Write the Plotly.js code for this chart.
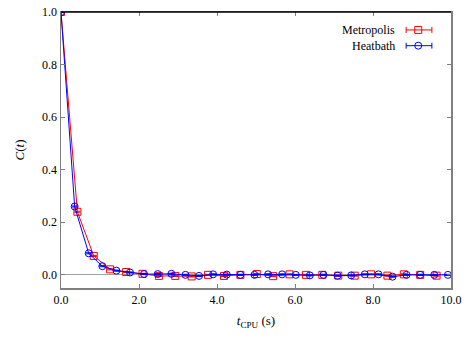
<!DOCTYPE html>
<html>
<head>
<meta charset="utf-8">
<script src="https://cdn.plot.ly/plotly-3.0.1.min.js"></script>
<style>
  html, body { margin: 0; padding: 0; background: #fff; }
  #chart { width: 473px; height: 340px; }
</style>
</head>
<body>
<div id="chart"></div>
<script>
// Metropolis series
const metroT = [0.00, 0.42, 0.84, 1.26, 1.67, 2.09, 2.51, 2.93, 3.35, 3.77, 4.18, 4.60,
                5.02, 5.44, 5.86, 6.28, 6.70, 7.11, 7.53, 7.95, 8.37, 8.79, 9.21, 9.63];
const metroC = [1.000, 0.240, 0.072, 0.021, 0.011, 0.004, -0.004, -0.004, -0.006, 0.000, -0.004, 0.000,
                0.003, -0.005, 0.002, 0.000, 0.000, -0.003, -0.003, 0.002, -0.003, 0.002, 0.000, -0.003];
const metroErr = [0.002, 0.002, 0.002, 0.002, 0.002, 0.002, 0.002, 0.002, 0.002, 0.002, 0.002, 0.002,
                  0.002, 0.002, 0.002, 0.002, 0.002, 0.002, 0.002, 0.002, 0.002, 0.002, 0.002, 0.002];

// Heatbath series
const heatT = [0.00, 0.35, 0.71, 1.06, 1.42, 1.77, 2.13, 2.48, 2.83, 3.19, 3.54, 3.90, 4.25, 4.60,
               4.96, 5.31, 5.67, 6.02, 6.38, 6.73, 7.09, 7.44, 7.79, 8.14, 8.50, 8.86, 9.21, 9.57, 9.92];
const heatC = [1.000, 0.260, 0.082, 0.033, 0.016, 0.009, 0.003, 0.003, 0.004, 0.000, -0.004, 0.002, 0.001, 0.000,
               0.000, 0.002, 0.002, 0.000, -0.002, 0.000, -0.003, -0.002, 0.002, 0.002, -0.007, 0.000, 0.000, 0.000, 0.000];
const heatErr = [0.002, 0.002, 0.002, 0.002, 0.002, 0.002, 0.002, 0.002, 0.002, 0.002, 0.002, 0.002, 0.002, 0.002,
                 0.002, 0.002, 0.002, 0.002, 0.002, 0.002, 0.002, 0.002, 0.002, 0.002, 0.002, 0.002, 0.002, 0.002, 0.002];

const seriesNames = ['Metropolis', 'Heatbath'];
const xTicks = [0, 2, 4, 6, 8, 10];
const xTickText = ['0.0', '2.0', '4.0', '6.0', '8.0', '10.0'];
const yTicks = [0, 0.2, 0.4, 0.6, 0.8, 1.0];
const yTickText = ['0.0', '0.2', '0.4', '0.6', '0.8', '1.0'];

const RED = '#ff0000';
const BLUE = '#0000ff';
const FONT = '"Liberation Serif", "Liberation Sans", serif';

const traces = [
  {
    x: metroT, y: metroC, name: seriesNames[0], type: 'scatter', mode: 'lines+markers',
    line: { color: RED, width: 1 },
    marker: { symbol: 'square-open', size: 7, color: RED, line: { width: 1, color: RED } },
    error_y: { type: 'data', array: metroErr, visible: true, color: RED, thickness: 1, width: 3 },
    showlegend: false
  },
  {
    x: heatT, y: heatC, name: seriesNames[1], type: 'scatter', mode: 'lines+markers',
    line: { color: BLUE, width: 1 },
    marker: { symbol: 'circle-open', size: 7, color: BLUE, line: { width: 1, color: BLUE } },
    error_y: { type: 'data', array: heatErr, visible: true, color: BLUE, thickness: 1, width: 3 },
    showlegend: false
  }
];

// custom legend (gnuplot style: text on left, symbol on right)
const legY = [0.935, 0.878];
const legColors = [RED, BLUE];
const lx0 = 0.885, lx1 = 0.951, lxm = 0.916;
const shapes = [
  { type: 'line', xref: 'paper', yref: 'paper', x0: 0, x1: 1, y0: 1, y1: 1,
    line: { color: '#000000', width: 1.5 } }
];
const annotations = [];
for (let i = 0; i < 2; i++) {
  const c = legColors[i], yy = legY[i];
  shapes.push({ type: 'line', xref: 'paper', yref: 'paper', x0: lx0, x1: lx1, y0: yy, y1: yy,
                line: { color: c, width: 1 } });
  shapes.push({ type: 'line', xref: 'paper', yref: 'paper', ysizemode: 'pixel', yanchor: yy,
                x0: lx0, x1: lx0, y0: -3, y1: 3, line: { color: c, width: 1 } });
  shapes.push({ type: 'line', xref: 'paper', yref: 'paper', ysizemode: 'pixel', yanchor: yy,
                x0: lx1, x1: lx1, y0: -3, y1: 3, line: { color: c, width: 1 } });
  shapes.push({ type: i === 0 ? 'rect' : 'circle', xref: 'paper', yref: 'paper',
                xsizemode: 'pixel', ysizemode: 'pixel', xanchor: lxm, yanchor: yy,
                x0: -3.5, x1: 3.5, y0: -3.5, y1: 3.5, fillcolor: 'rgba(0,0,0,0)',
                line: { color: c, width: 1 } });
  annotations.push({ xref: 'paper', yref: 'paper', x: 0.861, y: yy, xanchor: 'right', yanchor: 'middle',
                     text: seriesNames[i], showarrow: false,
                     font: { family: FONT, size: 12, color: '#000' } });
}

const layout = {
  width: 473, height: 340,
  margin: { l: 61, r: 22, t: 12, b: 52, pad: 0 },
  paper_bgcolor: '#ffffff', plot_bgcolor: '#ffffff',
  font: { family: FONT, size: 12, color: '#000' },
  showlegend: false,
  xaxis: {
    range: [0, 10], tickvals: xTicks, ticktext: xTickText,
    ticks: 'inside', ticklen: 4, tickcolor: '#808080', tickwidth: 1,
    showline: true, linecolor: '#808080', linewidth: 1.5, mirror: 'ticks',
    showgrid: false, zeroline: false,
    tickfont: { family: FONT, size: 12, color: '#000' },
    title: { text: '<i>t</i><sub>CPU</sub> (s)', font: { family: FONT, size: 13, color: '#000' }, standoff: 10 }
  },
  yaxis: {
    range: [-0.05, 1.0], tickvals: yTicks, ticktext: yTickText,
    ticks: 'inside', ticklen: 4, tickcolor: '#808080', tickwidth: 1,
    showline: true, linecolor: '#808080', linewidth: 1.5, mirror: 'ticks',
    showgrid: false, zeroline: true, zerolinecolor: '#a0a0a0', zerolinewidth: 1,
    tickfont: { family: FONT, size: 12, color: '#000' },
    title: { text: '<i>C</i>(<i>t</i>)', font: { family: FONT, size: 13, color: '#000' }, standoff: 14 }
  },
  shapes: shapes,
  annotations: annotations
};

Plotly.newPlot('chart', traces, layout, { staticPlot: true, displayModeBar: false });
</script>
</body>
</html>
